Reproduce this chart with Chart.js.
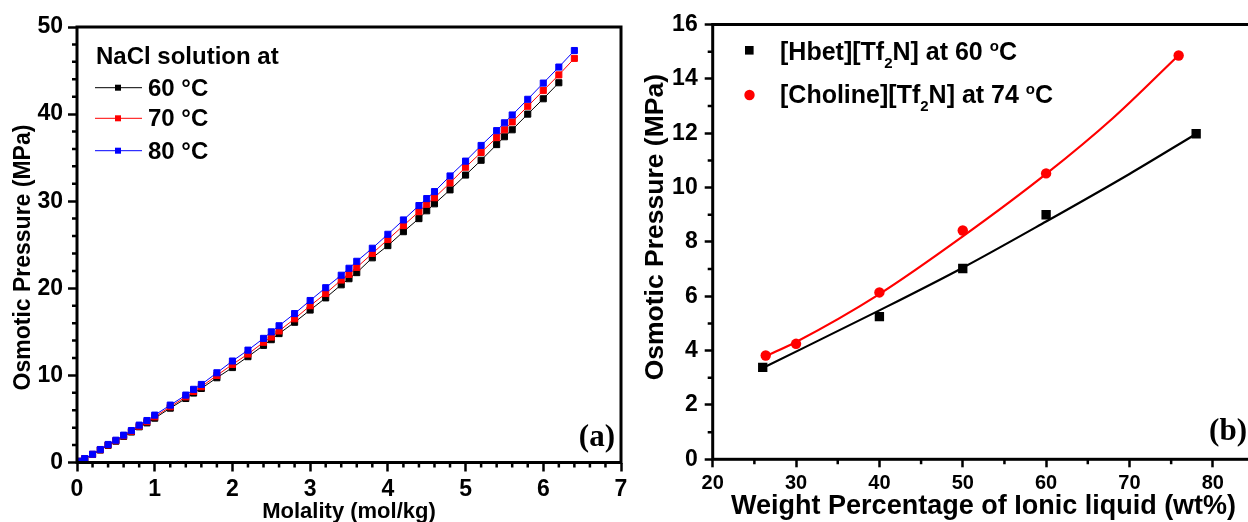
<!DOCTYPE html>
<html><head><meta charset="utf-8">
<script src="https://cdn.jsdelivr.net/npm/chart.js@4.4.1/dist/chart.umd.min.js"></script>
<style>
html,body{margin:0;padding:0;background:#fff;overflow:hidden;width:1248px;height:522px;position:relative;}
#ca{position:absolute;left:0;top:0;}
#cb{position:absolute;left:640px;top:0;}
</style></head><body>
<canvas id="ca" width="640" height="522"></canvas>
<canvas id="cb" width="640" height="522"></canvas>
<script>
// ---------- Panel (a): NaCl solution ----------
const molality = [0.02,0.1,0.2,0.3,0.4,0.5,0.6,0.7,0.8,0.9,1.0,1.2,1.4,1.5,1.6,1.8,2.0,2.2,2.4,2.5,2.6,2.8,3.0,3.2,3.4,3.5,3.6,3.8,4.0,4.2,4.4,4.5,4.6,4.8,5.0,5.2,5.4,5.5,5.6,5.8,6.0,6.2,6.4];
const nacl60 = [0.12,0.42,0.92,1.43,1.97,2.45,3.0,3.5,4.1,4.55,5.09,6.24,7.35,7.97,8.5,9.73,10.9,12.15,13.45,14.1,14.8,16.1,17.5,18.9,20.4,21.1,21.8,23.5,24.9,26.5,28.0,28.9,29.7,31.3,33.0,34.7,36.5,37.4,38.2,40.0,41.76,43.6,null];
const nacl70 = [0.13,0.44,0.93,1.46,2.02,2.5,3.06,3.58,4.18,4.68,5.25,6.4,7.54,8.16,8.7,10.0,11.26,12.45,13.8,14.4,15.1,16.5,18.0,19.4,20.95,21.6,22.4,24.0,25.6,27.2,28.8,29.65,30.4,32.1,33.9,35.6,37.3,38.2,39.1,40.9,42.7,44.5,46.4];
const nacl80 = [0.15,0.45,0.95,1.49,2.07,2.56,3.14,3.67,4.29,4.82,5.44,6.59,7.74,8.4,8.96,10.3,11.65,12.9,14.25,15.0,15.7,17.1,18.6,20.07,21.5,22.3,23.1,24.6,26.2,27.85,29.5,30.3,31.1,32.9,34.6,36.4,38.1,39.0,39.9,41.7,43.56,45.4,47.3];
const naclTitle = 'NaCl solution at';
const naclLabels = ['60 °C','70 °C','80 °C'];
const minorA_x = [0.2,0.4,0.6,0.8,1.2,1.4,1.6,1.8,2.2,2.4,2.6,2.8,3.2,3.4,3.6,3.8,4.2,4.4,4.6,4.8,5.2,5.4,5.6,5.8,6.2,6.4,6.6,6.8];
const minorA_y = [2,4,6,8,12,14,16,18,22,24,26,28,32,34,36,38,42,44,46,48];

// ---------- Panel (b): ionic liquids ----------
const wtHbet = [26,40,50,60,78];
const piHbet = [3.38,5.25,7.02,9.0,11.98];
const wtCholine = [26.36,30,40,50,60,75.9];
const piCholine = [3.82,4.25,6.14,8.42,10.52,14.86];
const fitHbetX = [26,40,50,60,70,78.08];
const fitHbetY = [3.36,5.48,7.05,8.75,10.5,11.99];
const fitCholX = [26.36,30,40,50,60,68,75.9];
const fitCholY = [3.8,4.32,6.08,8.2,10.5,12.55,14.87];
const hbetLabel = [['[Hbet][Tf',0],['2',-1],['N] at 60 ',0],['o',1],['C',0]];
const cholLabel = [['[Choline][Tf',0],['2',-1],['N] at 74 ',0],['o',1],['C',0]];
const minorB_x = [25,35,45,55,65,75,85];
const minorB_y = [1,3,5,7,9,11,13,15];

const SANS = '"Liberation Sans", Arial, sans-serif';
const SERIF = '"Liberation Serif", "Times New Roman", serif';
const bold = (s, lh) => ({family: SANS, size: s, weight: 'bold', lineHeight: lh || 1.2});
const pts = (xs, ys) => xs.map((x, i) => ({x: x, y: ys[i]})).filter(p => p.y !== null);

function frameAndMinor(chart, o) {
  const {ctx, chartArea: a, scales} = chart;
  ctx.save();
  ctx.strokeStyle = '#000';
  ctx.lineWidth = o.tw;
  ctx.beginPath();
  o.mx.forEach(v => { const p = scales.x.getPixelForValue(v); ctx.moveTo(p, a.bottom); ctx.lineTo(p, a.bottom + o.ml); });
  o.my.forEach(v => { const p = scales.y.getPixelForValue(v); ctx.moveTo(a.left, p); ctx.lineTo(a.left - o.ml, p); });
  ctx.stroke();
  ctx.lineWidth = o.fw;
  ctx.strokeRect(a.left, a.top, a.right - a.left, a.bottom - a.top);
  ctx.restore();
}

function richText(ctx, x, y, parts, size, small) {
  parts.forEach(([t, k]) => {
    if (k === 0) {
      ctx.font = 'bold ' + size + 'px ' + SANS;
      ctx.fillText(t, x, y);
    } else {
      ctx.font = 'bold ' + small + 'px ' + SANS;
      ctx.fillText(t, x, k < 0 ? y + 8 : y - 9);
    }
    x += ctx.measureText(t).width;
  });
}

// ----- Chart (a)
new Chart(document.getElementById('ca'), {
  type: 'line',
  data: {datasets: [
    {label: naclLabels[0], data: pts(molality, nacl60), borderColor: '#000000', backgroundColor: '#000000', borderWidth: 1, pointStyle: 'rect', pointRadius: 4.3, pointBorderWidth: 1, order: 2},
    {label: naclLabels[1], data: pts(molality, nacl70), borderColor: '#ff0000', backgroundColor: '#ff0000', borderWidth: 1, pointStyle: 'rect', pointRadius: 4.3, pointBorderWidth: 1, order: 1},
    {label: naclLabels[2], data: pts(molality, nacl80), borderColor: '#0000ff', backgroundColor: '#0000ff', borderWidth: 1, pointStyle: 'rect', pointRadius: 4.3, pointBorderWidth: 1, order: 0}
  ]},
  options: {
    responsive: false, animation: false, devicePixelRatio: 1,
    layout: {padding: {left: 0, top: 27, right: 19, bottom: 0}},
    plugins: {legend: {display: false}, tooltip: {enabled: false}},
    scales: {
      x: {type: 'linear', min: 0, max: 7,
        afterFit: s => { s.height = 59.5; },
        ticks: {stepSize: 1, color: '#000', font: bold(23), padding: 4, maxRotation: 0},
        grid: {display: true, drawOnChartArea: false, drawTicks: true, tickLength: 9, tickColor: '#000', tickWidth: 2.5},
        border: {display: false},
        title: {display: true, text: 'Molality (mol/kg)', color: '#000', font: bold(22, 1), padding: {top: 0, bottom: -1}}
      },
      y: {type: 'linear', min: 0, max: 50,
        afterFit: s => { s.width = 77; },
        ticks: {stepSize: 10, color: '#000', font: bold(23), padding: 5},
        grid: {display: true, drawOnChartArea: false, drawTicks: true, tickLength: 9, tickColor: '#000', tickWidth: 2.5},
        border: {display: false},
        title: {display: true, text: 'Osmotic Pressure (MPa)    ', color: '#000', font: bold(23, 1), padding: {top: 12, bottom: 0}}
      }
    }
  },
  plugins: [{
    id: 'decoA',
    afterDraw(chart) {
      frameAndMinor(chart, {mx: minorA_x, my: minorA_y, ml: 5, tw: 2.5, fw: 3});
      const ctx = chart.ctx;
      ctx.save();
      ctx.textAlign = 'left'; ctx.textBaseline = 'alphabetic'; ctx.fillStyle = '#000';
      ctx.font = 'bold 24px ' + SANS;
      ctx.fillText(naclTitle, 96, 64);
      const ys = [87.7, 118.3, 150.7];
      chart.data.datasets.forEach((ds, i) => {
        ctx.strokeStyle = ds.borderColor; ctx.lineWidth = 1;
        ctx.beginPath(); ctx.moveTo(95, ys[i]); ctx.lineTo(142, ys[i]); ctx.stroke();
        ctx.fillStyle = ds.backgroundColor; ctx.fillRect(115, ys[i] - 3, 6, 6);
        ctx.fillStyle = '#000'; ctx.font = 'bold 24px ' + SANS;
        ctx.fillText(ds.label, 148, ys[i] + 7.8);
      });
      ctx.font = 'bold 31px ' + SERIF; ctx.textAlign = 'right';
      ctx.fillText('(a)', 615, 446);
      ctx.restore();
    }
  }]
});

// ----- Chart (b)
new Chart(document.getElementById('cb'), {
  type: 'scatter',
  data: {datasets: [
    {label: 'Hbet', data: pts(wtHbet, piHbet), backgroundColor: '#000', borderColor: '#000', pointStyle: 'rect', pointRadius: 6.6, pointBorderWidth: 0, order: 0},
    {label: 'Choline', data: pts(wtCholine, piCholine), backgroundColor: '#ff0000', borderColor: '#ff0000', pointStyle: 'circle', pointRadius: 5.2, pointBorderWidth: 0, order: 0},
    {type: 'line', label: 'Hbet fit', data: pts(fitHbetX, fitHbetY), borderColor: '#000', borderWidth: 2.2, pointRadius: 0, cubicInterpolationMode: 'monotone', order: 2},
    {type: 'line', label: 'Choline fit', data: pts(fitCholX, fitCholY), borderColor: '#ff0000', borderWidth: 2.2, pointRadius: 0, cubicInterpolationMode: 'monotone', order: 1}
  ]},
  options: {
    responsive: false, animation: false, devicePixelRatio: 1,
    layout: {padding: {left: 0, top: 24.5, right: 25.5, bottom: 0}},
    plugins: {legend: {display: false}, tooltip: {enabled: false}},
    scales: {
      x: {type: 'linear', min: 20, max: 85,
        afterFit: s => { s.height = 62.7; },
        ticks: {stepSize: 10, includeBounds: false, color: '#000', font: bold(20), padding: 4.5, maxRotation: 0},
        grid: {display: true, drawOnChartArea: false, drawTicks: true, tickLength: 8, tickColor: '#000', tickWidth: 2.5},
        border: {display: false},
        title: {display: true, text: 'Weight Percentage of Ionic liquid (wt%)', color: '#000', font: bold(27, 1), padding: {top: 0, bottom: 1.5}}
      },
      y: {type: 'linear', min: 0, max: 16,
        afterFit: s => { s.width = 72.7; },
        ticks: {stepSize: 2, color: '#000', font: bold(23), padding: 7},
        grid: {display: true, drawOnChartArea: false, drawTicks: true, tickLength: 8, tickColor: '#000', tickWidth: 2.5},
        border: {display: false},
        title: {display: true, text: '    Osmotic Pressure (MPa)', color: '#000', font: bold(26.5, 1), padding: {top: 2, bottom: 0}}
      }
    }
  },
  plugins: [{
    id: 'decoB',
    afterDraw(chart) {
      frameAndMinor(chart, {mx: minorB_x, my: minorB_y, ml: 5, tw: 2.5, fw: 3});
      const ctx = chart.ctx;
      ctx.save();
      ctx.textAlign = 'left'; ctx.textBaseline = 'alphabetic'; ctx.fillStyle = '#000';
      ctx.fillRect(105, 46, 8.6, 8.6);
      richText(ctx, 140, 60, hbetLabel, 25, 15);
      ctx.fillStyle = '#ff0000';
      ctx.beginPath(); ctx.arc(109.5, 95, 5.2, 0, Math.PI * 2); ctx.fill();
      ctx.fillStyle = '#000';
      richText(ctx, 140, 103.3, cholLabel, 25, 15);
      ctx.font = 'bold 31px ' + SERIF; ctx.textAlign = 'right';
      ctx.fillText('(b)', 607, 440);
      ctx.restore();
    }
  }]
});
</script>
</body></html>
